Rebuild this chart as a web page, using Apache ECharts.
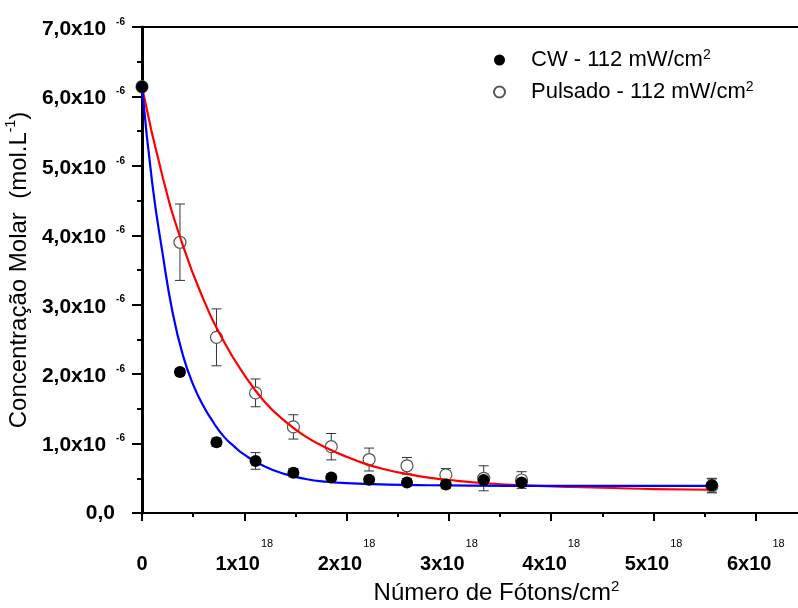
<!DOCTYPE html>
<html><head><meta charset="utf-8">
<script src="https://cdn.jsdelivr.net/npm/echarts@6/dist/echarts.min.js"></script>
<style>html,body{margin:0;padding:0;background:#fff}#c{width:798px;height:608px}</style>
</head><body><div id="c"></div>
<script>
// x in units of 10^18 photons/cm², y in units of 10^-6 mol/L
const photonsX      = [0, 0.371, 0.728, 1.11, 1.48, 1.85, 2.22, 2.59, 2.97, 3.34, 3.71, 5.57];
const cwValues      = [6.14, 2.03, 1.02, 0.75, 0.58, 0.51, 0.48, 0.44, 0.41, 0.475, 0.44, 0.40];
const cwErrors      = [0.05, 0.05, 0.06, 0.12, 0.06, 0.04, 0.04, 0.05, 0.06, 0.05, 0.06, 0.10];
const pulsadoValues = [6.14, 3.90, 2.53, 1.73, 1.24, 0.955, 0.77, 0.68, 0.55, 0.50, 0.475, 0.39];
const pulsadoErrors = [0, 0.55, 0.41, 0.20, 0.175, 0.19, 0.165, 0.12, 0.09, 0.18, 0.12, 0.10];

// fitted curves
const cwCurveX = [0, 0.1, 0.2, 0.3, 0.4, 0.5, 0.6, 0.7, 0.8, 0.9, 1.0, 1.2, 1.4, 1.6, 1.8, 2.0, 2.4, 2.8, 3.2, 4.0, 5.57];
const cwCurveY = [6.14, 4.75, 3.75, 2.88, 2.27, 1.85, 1.54, 1.30, 1.10, 0.96, 0.84, 0.67, 0.56, 0.49, 0.45, 0.43, 0.41, 0.40, 0.395, 0.39, 0.39];
const pulsadoCurveX = [0, 0.2, 0.4, 0.6, 0.8, 1.0, 1.2, 1.4, 1.6, 1.8, 2.0, 2.2, 2.4, 2.6, 2.8, 3.0, 3.4, 3.8, 4.2, 4.6, 5.0, 5.57];
const pulsadoCurveY = [6.14, 4.85, 3.85, 3.08, 2.47, 1.99, 1.60, 1.32, 1.10, 0.94, 0.81, 0.70, 0.62, 0.56, 0.51, 0.475, 0.425, 0.395, 0.375, 0.36, 0.345, 0.335];

const xTicks = [0, 1, 2, 3, 4, 5, 6];
const yTicks = [0, 1, 2, 3, 4, 5, 6, 7];
const legendNames = ['CW - 112 mW/cm', 'Pulsado - 112 mW/cm'];

const FONT = 'Liberation Sans, Arial, sans-serif';
const zip = (a, b) => a.map((v, i) => [v, b[i]]);

function errorBars(name, xs, ys, errs, z) {
  return {
    type: 'custom', name: name, z: z, silent: true,
    data: xs.map((x, i) => [x, ys[i] - errs[i], ys[i] + errs[i]]),
    encode: { x: 0, y: [1, 2] },
    renderItem: function (params, api) {
      const lo = api.coord([api.value(0), api.value(1)]);
      const hi = api.coord([api.value(0), api.value(2)]);
      const w = 5;
      const st = { stroke: '#333', lineWidth: 1 };
      return { type: 'group', children: [
        { type: 'line', shape: { x1: hi[0], y1: hi[1], x2: lo[0], y2: lo[1] }, style: st },
        { type: 'line', shape: { x1: hi[0] - w, y1: hi[1], x2: hi[0] + w, y2: hi[1] }, style: st },
        { type: 'line', shape: { x1: lo[0] - w, y1: lo[1], x2: lo[0] + w, y2: lo[1] }, style: st }
      ]};
    }
  };
}

const chart = echarts.init(document.getElementById('c'), null, { renderer: 'canvas' });
chart.setOption({
  backgroundColor: '#fff',
  animation: false,
  grid: { left: 142, width: 665, top: 27, height: 486, outerBoundsMode: 'none', containLabel: false,
          show: true, borderColor: '#000', borderWidth: 2 },
  legend: {
    orient: 'vertical', left: 488, top: 42, itemGap: 8,
    itemWidth: 11, itemHeight: 11,
    data: [
      { name: legendNames[0], icon: 'circle' },
      { name: legendNames[1], icon: 'circle' }
    ],
    formatter: n => '{g|}{a|' + n + '}{s|2}',
    textStyle: {
      fontFamily: FONT, color: '#000',
      rich: {
        g: { width: 21 },
        a: { fontSize: 22, fontFamily: FONT, color: '#000', lineHeight: 26 },
        s: { fontSize: 14, fontFamily: FONT, color: '#000', verticalAlign: 'top', lineHeight: 14, padding: [1, 0, 0, 0] }
      }
    }
  },
  xAxis: {
    type: 'value', min: 0, max: 6.5, interval: 1,
    name: '{t|Número de Fótons/cm}{u|2}',
    nameLocation: 'middle', nameGap: 62,
    nameTextStyle: {
      rich: {
        t: { fontSize: 24, fontFamily: FONT, color: '#000', lineHeight: 28, padding: [0, 0, 0, 44] },
        u: { fontSize: 15, fontFamily: FONT, color: '#000', verticalAlign: 'top', lineHeight: 15 }
      }
    },
    axisLine: { show: true, onZero: false, lineStyle: { color: '#000', width: 2 } },
    axisTick: { show: true, inside: false, length: 8, lineStyle: { color: '#000', width: 2 } },
    minorTick: { show: true, splitNumber: 2, length: 4, lineStyle: { color: '#000', width: 2 } },
    splitLine: { show: false },
    axisLabel: {
      margin: 25,
      formatter: v => {
        if (xTicks.indexOf(v) < 0) return '';
        return v === 0 ? '{h| }{z|0}' : '{h| }{m|' + v + 'x10}{s|18}';
      },
      rich: {
        h: { fontSize: 1, lineHeight: 36, width: 0 },
        m: { fontSize: 20, fontWeight: 'bold', fontFamily: FONT, color: '#000', lineHeight: 20, verticalAlign: 'bottom' },
        z: { fontSize: 20, fontWeight: 'bold', fontFamily: FONT, color: '#000', lineHeight: 20, verticalAlign: 'bottom' },
        s: { fontSize: 11, fontFamily: FONT, color: '#000', lineHeight: 14, verticalAlign: 'top', padding: [0, 0, 0, 1] }
      }
    }
  },
  yAxis: {
    type: 'value', min: 0, max: 7, interval: 1,
    name: '{t|Concentração Molar  (mol.L}{u|-1}{t|)}',
    nameLocation: 'middle', nameRotate: 90, nameGap: 106,
    nameTextStyle: {
      rich: {
        t: { fontSize: 24, fontFamily: FONT, color: '#000', lineHeight: 30 },
        u: { fontSize: 14, fontFamily: FONT, color: '#000', verticalAlign: 'top', lineHeight: 15 }
      }
    },
    axisLine: { show: true, lineStyle: { color: '#000', width: 3 } },
    axisTick: { show: true, inside: false, length: 10, lineStyle: { color: '#000', width: 2 } },
    minorTick: { show: true, splitNumber: 2, length: 5, lineStyle: { color: '#000', width: 2 } },
    splitLine: { show: false },
    axisLabel: {
      margin: 17,
      formatter: v => {
        if (yTicks.indexOf(v) < 0) return '';
        return v === 0 ? '{z|0,0}' : '{m|' + v + ',0x10}{s|-6}';
      },
      rich: {
        m: { fontSize: 21, fontWeight: 'bold', fontFamily: FONT, color: '#000', lineHeight: 26, padding: [4, 0, 0, 0] },
        z: { fontSize: 21, fontWeight: 'bold', fontFamily: FONT, color: '#000', lineHeight: 26, padding: [0, 10, 0, 0] },
        s: { fontSize: 10, fontWeight: 'bold', fontFamily: FONT, color: '#000', lineHeight: 12, verticalAlign: 'top', padding: [3, 0, 0, 10] }
      }
    }
  },
  series: [
    errorBars('errP', photonsX, pulsadoValues, pulsadoErrors, 2),
    errorBars('errCW', photonsX, cwValues, cwErrors, 2),
    {
      name: legendNames[1], type: 'scatter', z: 3,
      data: zip(photonsX, pulsadoValues),
      symbol: 'circle', symbolSize: 12,
      itemStyle: { color: '#fff', borderColor: '#555', borderWidth: 1.2, opacity: 1 }
    },
    {
      name: 'ajuste pulsado', type: 'line', z: 4, smooth: true, showSymbol: false, symbol: 'none',
      data: zip(pulsadoCurveX, pulsadoCurveY),
      lineStyle: { color: '#ff0000', width: 2.2 }
    },
    {
      name: 'ajuste CW', type: 'line', z: 4, smooth: true, showSymbol: false, symbol: 'none',
      data: zip(cwCurveX, cwCurveY),
      lineStyle: { color: '#0000ff', width: 2.2 }
    },
    {
      name: legendNames[0], type: 'scatter', z: 5,
      data: zip(photonsX, cwValues),
      symbol: 'circle', symbolSize: 12,
      itemStyle: { color: '#000', opacity: 1 }
    }
  ]
});
</script>
</body></html>
